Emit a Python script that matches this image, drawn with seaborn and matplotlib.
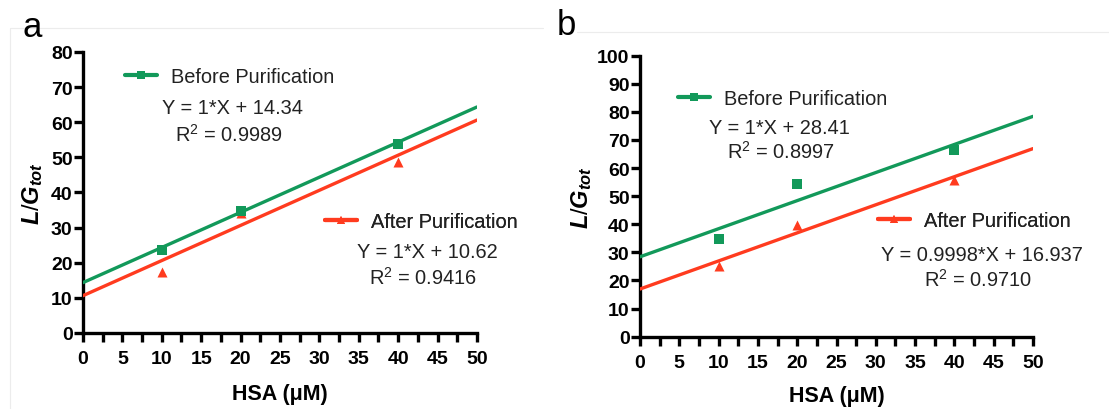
import numpy as np
import pandas as pd
import matplotlib
matplotlib.use("Agg")
import matplotlib.pyplot as plt
from matplotlib.lines import Line2D
import seaborn as sns

# ---- data ----
hsa = [10, 20, 40]
series = ["Before Purification", "After Purification"]

a_before = [23.7, 34.7, 53.8]
a_after = [17.5, 34.3, 48.8]
b_before = [34.7, 54.3, 66.5]
b_after = [25.2, 39.7, 55.7]

# fitted lines as printed on the chart (slope, intercept)
a_fit = {"Before Purification": (1.0, 14.34), "After Purification": (1.0, 10.62)}
b_fit = {"Before Purification": (1.0, 28.41), "After Purification": (0.9998, 16.937)}

a_eq = {"Before Purification": ("Y = 1*X + 14.34", "R$^{2}$ = 0.9989"),
        "After Purification": ("Y = 1*X + 10.62", "R$^{2}$ = 0.9416")}
b_eq = {"Before Purification": ("Y = 1*X + 28.41", "R$^{2}$ = 0.8997"),
        "After Purification": ("Y = 0.9998*X + 16.937", "R$^{2}$ = 0.9710")}

x_range = [0, 50]

colors = {"Before Purification": "#12995a", "After Purification": "#ff3b1f"}
markers = {"Before Purification": "s", "After Purification": "^"}

sns.set_style("white")
plt.rcParams["font.family"] = ["Liberation Sans", "DejaVu Sans"]
plt.rcParams["mathtext.fontset"] = "custom"
plt.rcParams["mathtext.rm"] = "Liberation Sans"
plt.rcParams["mathtext.it"] = "Liberation Sans:italic:bold"
plt.rcParams["mathtext.bf"] = "Liberation Sans:bold"
plt.rcParams["text.color"] = "black"
plt.rcParams["axes.labelcolor"] = "black"
plt.rcParams["xtick.color"] = "black"
plt.rcParams["ytick.color"] = "black"


def make_df(before, after):
    return pd.DataFrame({
        "HSA": hsa + hsa,
        "val": before + after,
        "series": [series[0]] * 3 + [series[1]] * 3,
    })


def fit_df(fit):
    rows = []
    for s in series[::-1]:
        m, c = fit[s]
        for x in x_range:
            rows.append({"HSA": x, "val": m * x + c, "series": s})
    return pd.DataFrame(rows)


fig = plt.figure(figsize=(11.09, 4.10), dpi=100)
ax_a = fig.add_axes([0.0748, 0.1854, 0.3553, 0.6854])
ax_b = fig.add_axes([0.5771, 0.1766, 0.3544, 0.6851])

panels = [
    (ax_a, make_df(a_before, a_after), a_fit, a_eq, 80,
     {"Before Purification": ((0.107, 0.911), (19.0, 64.3), (18.5, 56.7)),
      "After Purification": ((0.614, 0.395), (43.7, 23.1), (43.1, 15.9))},
     (-0.127, -0.217)),
    (ax_b, make_df(b_before, b_after), b_fit, b_eq, 100,
     {"Before Purification": ((0.097, 0.849), (17.8, 74.6), (17.9, 66.1)),
      "After Purification": ((0.606, 0.412), (43.5, 29.4), (43.0, 20.5))},
     (-0.148, -0.211)),
]

for ax, df, fit, eq, ymax, pos, labpos in panels:
    sns.lineplot(data=fit_df(fit), x="HSA", y="val", hue="series",
                 palette=colors, hue_order=series[::-1], lw=2.4,
                 legend=False, ax=ax, zorder=3)
    for s in series[::-1]:
        sub = df[df["series"] == s]
        sns.scatterplot(data=sub, x="HSA", y="val", color=colors[s],
                        marker=markers[s], s=52, linewidth=0, legend=False,
                        ax=ax, zorder=4, clip_on=False)

    ax.set_xlim(0, 50)
    ax.set_ylim(0, ymax)
    ax.set_xticks(np.arange(0, 51, 2.5))
    ax.set_xticklabels([f"{int(t)}" if t % 5 == 0 else "" for t in np.arange(0, 51, 2.5)])
    ax.set_yticks(np.arange(0, ymax + 1, 10))
    for sp in ["top", "right"]:
        ax.spines[sp].set_visible(False)
    for sp in ["left", "bottom"]:
        ax.spines[sp].set_linewidth(2.4)
        ax.spines[sp].set_color("black")
    ax.tick_params(axis="both", direction="out", length=6.5, width=2.4,
                   labelsize=14, color="black", bottom=True, left=True)
    ax.tick_params(axis="x", pad=6)
    ax.tick_params(axis="y", pad=1)
    for t in ax.get_xticklabels() + ax.get_yticklabels():
        t.set_fontweight("bold")

    ax.set_xlabel("HSA (μM)", fontsize=15.5, fontweight="bold")
    ax.set_ylabel(r"$\mathit{L/G}_{\mathit{tot}}$", fontsize=17)
    ax.xaxis.set_label_coords(0.5, labpos[1])
    ax.xaxis.label.set_va("center")
    ax.yaxis.set_label_coords(labpos[0], 0.5)
    ax.yaxis.label.set_va("center")

    for s in series:
        anchor, eq_xy, r_xy = pos[s]
        h = Line2D([], [], color=colors[s], lw=3, marker=markers[s],
                   markersize=6, markeredgewidth=0)
        leg = ax.legend([h], [s], loc="center left", bbox_to_anchor=anchor,
                        frameon=False, fontsize=14.4, handlelength=1.6,
                        handletextpad=0.7, borderpad=0, borderaxespad=0,
                        numpoints=1)
        for t in leg.get_texts():
            t.set_color("#222222")
        ax.add_artist(leg)
        ax.text(eq_xy[0], eq_xy[1], eq[s][0], ha="center", va="center",
                fontsize=14.4, color="#222222")
        ax.text(r_xy[0], r_xy[1], eq[s][1], ha="center", va="center",
                fontsize=14.4, color="#222222")

# panel letters
fig.text(0.020, 0.91, "a", fontsize=25, va="baseline")
fig.text(0.502, 0.915, "b", fontsize=25, va="baseline")

# faint frame lines around the panels, as in the source image
fig.add_artist(Line2D([0.009, 0.49], [0.929, 0.929], color="#ececec", lw=0.8))
fig.add_artist(Line2D([0.009, 0.009], [0.0, 0.929], color="#ececec", lw=0.8))
fig.add_artist(Line2D([0.52, 1.0], [0.919, 0.919], color="#ececec", lw=0.8))

fig.savefig("out.png", dpi=100)
